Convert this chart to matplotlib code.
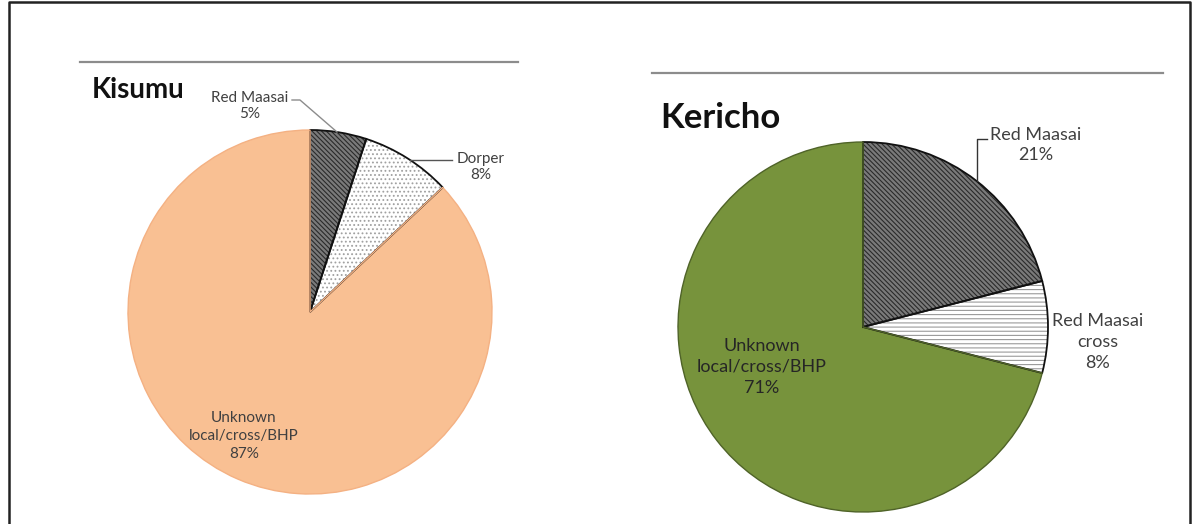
import matplotlib
matplotlib.use("Agg")
import matplotlib.pyplot as plt
from matplotlib.lines import Line2D

# Breed composition of sheep flocks in two counties
kisumu_breeds = ["Red Maasai", "Dorper", "Unknown\nlocal/cross/BHP"]
kisumu_share = [5, 8, 87]
kericho_breeds = ["Red Maasai", "Red Maasai\ncross", "Unknown\nlocal/cross/BHP"]
kericho_share = [21, 8, 71]

W, H = 1192, 524
plt.rcParams["font.family"] = ["Lato", "DejaVu Sans"]
plt.rcParams["hatch.linewidth"] = 0.8

fig = plt.figure(figsize=(W / 100, H / 100), dpi=100)
ax = fig.add_axes([0, 0, 1, 1])


def Y(y):
    return H - y


def draw_pie(values, center, radius, faces, hatches, hatch_cols, edges, lws):
    # filled + hatched layer
    wedges, _ = ax.pie(values, startangle=90, counterclock=False,
                       center=center, radius=radius, frame=True,
                       wedgeprops=dict(linewidth=0))
    for w, fc, h, hc in zip(wedges, faces, hatches, hatch_cols):
        w.set_facecolor(fc)
        w.set_hatch(h)
        w.set_edgecolor(hc)
        w.set_linewidth(0)
    # outline layer
    outl, _ = ax.pie(values, startangle=90, counterclock=False,
                     center=center, radius=radius, frame=True,
                     wedgeprops=dict(fill=False))
    for w, ec, lw in zip(outl, edges, lws):
        w.set_edgecolor(ec)
        w.set_linewidth(lw)
    return wedges


# Kisumu
draw_pie(kisumu_share, (310, Y(312)), 182,
         faces=["#7a7a7a", "#ffffff", "#F9C093"],
         hatches=["\\\\\\\\\\\\\\", "....", None],
         hatch_cols=["#2a2a2a", "#a0a0a0", "#F9C093"],
         edges=["#111111", "#111111", "#F4B183"],
         lws=[1.3, 1.3, 1.0])

# Kericho
draw_pie(kericho_share, (863, Y(327)), 185,
         faces=["#7a7a7a", "#ffffff", "#77933C"],
         hatches=["\\\\\\\\\\\\\\", "----", None],
         hatch_cols=["#2a2a2a", "#9a9a9a", "#77933C"],
         edges=["#111111", "#111111", "#4f6328"],
         lws=[1.3, 1.3, 1.0])

ax.set_xlim(0, W)
ax.set_ylim(0, H)
ax.set_aspect("auto")
ax.axis("off")

label_col = "#404040"

# Kisumu titles and rule
ax.add_line(Line2D([80, 518], [Y(62), Y(62)], color="#8c8c8c", lw=1.6))
ax.text(92, Y(90), "Kisumu", fontsize=20, fontweight="bold",
        color="#111111", ha="left", va="center")

ax.text(250, Y(106), f"{kisumu_breeds[0]}\n{kisumu_share[0]}%", fontsize=11,
        color=label_col, ha="center", va="center", linespacing=1.25)
ax.add_line(Line2D([292, 300, 337], [Y(100), Y(100), Y(132)],
                   color="#8c8c8c", lw=1.0))
ax.text(481, Y(167), f"{kisumu_breeds[1]}\n{kisumu_share[1]}%", fontsize=11,
        color=label_col, ha="center", va="center", linespacing=1.25)
ax.add_line(Line2D([410, 452], [Y(160), Y(160)], color="#555555", lw=1.0))
ax.text(244, Y(436), f"{kisumu_breeds[2]}\n{kisumu_share[2]}%", fontsize=11,
        color=label_col, ha="center", va="center", linespacing=1.37)

# Kericho titles and rule
ax.add_line(Line2D([652, 1163], [Y(73), Y(73)], color="#8c8c8c", lw=1.6))
ax.text(660, Y(118), "Kericho", fontsize=25, fontweight="bold",
        color="#111111", ha="left", va="center")

ax.text(1036, Y(145), f"{kericho_breeds[0]}\n{kericho_share[0]}%", fontsize=13,
        color=label_col, ha="center", va="center", linespacing=1.35)
ax.add_line(Line2D([987, 977, 977], [Y(139), Y(139), Y(181)],
                   color="#333333", lw=1.0))
ax.text(1098, Y(342), f"{kericho_breeds[1]}\n{kericho_share[1]}%", fontsize=13,
        color=label_col, ha="center", va="center", linespacing=1.35)
ax.text(762, Y(367), f"{kericho_breeds[2]}\n{kericho_share[2]}%", fontsize=13,
        color="#262626", ha="center", va="center", linespacing=1.35)

# outer frame
ax.add_line(Line2D([9, 9, 1190, 1190], [0, Y(2), Y(2), 0],
                   color="#222222", lw=1.8))

fig.savefig("out.png", dpi=100, facecolor="white")
